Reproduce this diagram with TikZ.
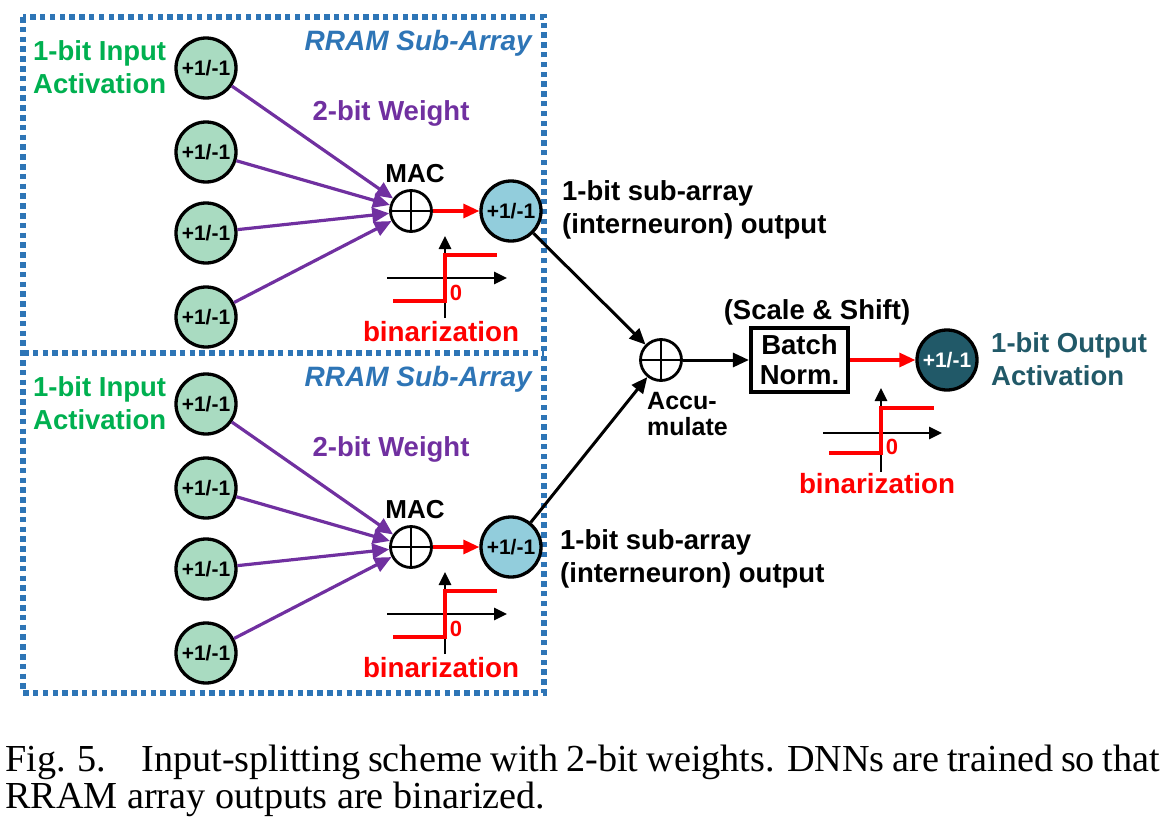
\documentclass[tikz,border=0pt]{standalone}
\usepackage{fontspec}
\setmainfont{Liberation Serif}
\newfontfamily\arialf{Liberation Sans}
\usetikzlibrary{arrows.meta}
\definecolor{dotblue}{HTML}{2E75B6}
\definecolor{ingreen}{HTML}{00B050}
\definecolor{nodegreen}{HTML}{A9DBC1}
\definecolor{nodeblue}{HTML}{92CDDC}
\definecolor{wpurple}{HTML}{7030A0}
\definecolor{outteal}{HTML}{215968}
\definecolor{rred}{HTML}{FF0000}
\begin{document}
\begin{tikzpicture}[x=1pt,y=-1pt,
  lbl/.style={font=\arialf\bfseries\fontsize{27.5}{32.5}\selectfont, inner sep=0pt},
  rrlbl/.style={font=\arialf\bfseries\itshape\fontsize{28}{32}\selectfont, inner sep=0pt, text=dotblue},
  neuron/.style={circle, draw, line width=3.3pt, minimum size=60pt, inner sep=0pt,
    font=\arialf\bfseries\fontsize{21}{21}\selectfont},
  sumnode/.style={circle, draw, line width=2.8pt, minimum size=41pt, inner sep=0pt},
  warrow/.style={wpurple, line width=3.2pt, -{Triangle[length=17pt,width=15pt]}},
  blackarrow/.style={black, line width=3pt, -{Triangle[length=16pt,width=14pt]}},
  redarrow/.style={rred, line width=3.2pt, -{Triangle[length=16pt,width=14pt]}},
  axisarrow/.style={black, line width=2.7pt, -{Triangle[length=13pt,width=12pt]}},
  stepline/.style={rred, line width=3.2pt},
  zerolbl/.style={font=\arialf\bfseries\fontsize{22}{22}\selectfont, text=rred, inner sep=0pt},
  binlbl/.style={font=\arialf\bfseries\fontsize{27.8}{30}\selectfont, text=rred, inner sep=0pt},
  caption/.style={font=\fontsize{38.2}{40}\selectfont, inner sep=0pt, anchor=base west},
  dotbox/.style={dotblue, line width=5.5pt, dash pattern=on 5.5pt off 4.3pt}
]
\useasboundingbox (0,0) rectangle (1176,838);

% dotted sub-array boxes
\draw[dotbox] (23,17) rectangle (544,693);
\draw[dotbox] (23,353) -- (544,353);

% two sub-arrays
\foreach \s/\o in {1/0,2/336}{
  \foreach \i/\y in {1/68,2/152,3/233,4/317}{
    \node[neuron, fill=nodegreen] (a\s\i) at (206,\y+\o) {+1/-1};
  }
  \node[sumnode] (mac\s) at (411,211+\o) {};
  \draw[line width=2.8pt] (mac\s.north) -- (mac\s.south) (mac\s.west) -- (mac\s.east);
  \node[lbl, font=\arialf\bfseries\fontsize{26}{26}\selectfont] (maclbl\s) at (415,174+\o) {MAC};
  \node[neuron, fill=nodeblue] (h\s) at (511,211+\o) {+1/-1};
  \foreach \i in {1,...,4}{
    \draw[warrow] (a\s\i) -- (mac\s);
  }
  \draw[redarrow] (mac\s) -- (h\s);
  \node[lbl, text=ingreen, anchor=west, align=left] (inlbl\s) at (33,67+\o) {1-bit Input\\Activation};
  \node[rrlbl, anchor=east] (rrlbl\s) at (532,43+\o) {RRAM Sub-Array};
  \node[lbl, text=wpurple] (wlbl\s) at (391,113+\o) {2-bit Weight};
  % binarization plot
  \begin{scope}[shift={(445,278+\o)}]
    \draw[axisarrow] (0,40) -- (0,-42);
    \draw[axisarrow] (-58,0) -- (62,0);
    \draw[stepline] (-52,23) -- (0,23) -- (0,-23) -- (52,-23);
    \node[zerolbl] (zero\s) at (11,15) {0};
    \node[binlbl] (bin\s) at (-4,54) {binarization};
  \end{scope}
}
\node[lbl, anchor=west, align=left] (sublbl1) at (562,210) {1-bit sub-array\\(interneuron) output};
\node[lbl, anchor=west, align=left] (sublbl2) at (560,559) {1-bit sub-array\\(interneuron) output};

% accumulate
\node[sumnode] (acc) at (661,360) {};
\draw[line width=2.8pt] (acc.north) -- (acc.south) (acc.west) -- (acc.east);
\draw[blackarrow] (h1) -- (acc);
\draw[blackarrow] (h2) -- (acc);
\node[lbl, font=\arialf\bfseries\fontsize{25}{26}\selectfont, anchor=west, align=left] (acclbl) at (647,414) {Accu-\\mulate};

% batch norm
\node[draw, line width=4.2pt, minimum width=97pt, minimum height=64pt, inner sep=0pt,
  font=\arialf\bfseries\fontsize{27.5}{30}\selectfont, align=center] (bn) at (799.5,360) {Batch\\Norm.};
\node[lbl] (scalelbl) at (817,312) {(Scale \& Shift)};
\draw[blackarrow] (acc) -- (bn);

% output
\node[neuron, fill=outteal, text=white] (out) at (947,360) {+1/-1};
\draw[redarrow] (bn) -- (out);
\node[lbl, text=outteal, anchor=west, align=left] (outlbl) at (991,359) {1-bit Output\\Activation};

\begin{scope}[shift={(881,433)}]
  \draw[axisarrow] (0,39) -- (0,-45);
  \draw[axisarrow] (-58,0) -- (61,0);
  \draw[stepline] (-52,20) -- (0,20) -- (0,-25) -- (53,-25);
  \node[zerolbl] (zero3) at (11,14) {0};
  \node[binlbl] (bin3) at (-4,51) {binarization};
\end{scope}

% caption
\node[caption] (cap1) at (5,771) {\makebox[1155pt][s]{Fig. 5.\hspace{0.6em} Input-splitting scheme with 2-bit weights. DNNs are trained so that}};
\node[caption] (cap2) at (5,808) {RRAM array outputs are binarized.};
\end{tikzpicture}
\end{document}
